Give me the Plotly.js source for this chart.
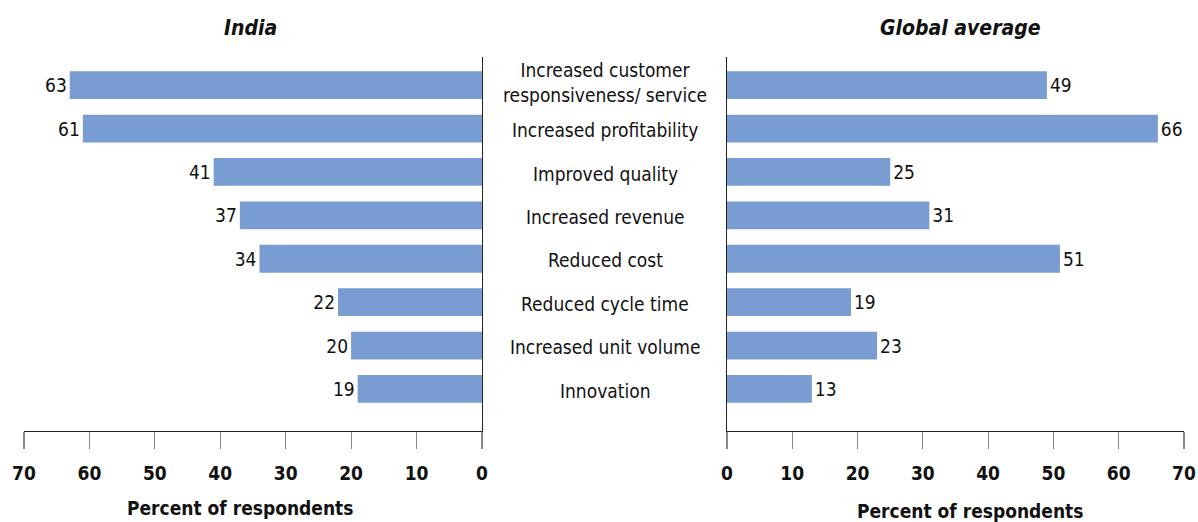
<!DOCTYPE html>
<html><head><meta charset="utf-8">
<script src="https://cdn.plot.ly/plotly-3.0.1.min.js"></script>
<style>body{margin:0}#c{width:1198px;height:522px}</style>
</head><body><div id="c"></div>
<script>
const categories = ["Increased customer<br>responsiveness/ service","Increased profitability","Improved quality","Increased revenue","Reduced cost","Reduced cycle time","Increased unit volume","Innovation"];
const india = [63,61,41,37,34,22,20,19];
const globalAvg = [49,66,25,31,51,19,23,13];
const panelTitles = ["India","Global average"];
const axisTitle = "Percent of respondents";

const FONT = "'Liberation Sans Narrow','DejaVu Sans Condensed',Arial,sans-serif";
const barColor = "#799cd2";
const idx = categories.map((c,i)=>i);

const traces = [
  {type:'bar', orientation:'h', x:india, y:idx, xaxis:'x', yaxis:'y', marker:{color:barColor}, width:0.64,
   text:india.map(String), textposition:'outside', cliponaxis:false, textfont:{family:FONT,size:19,color:'#111'}, hoverinfo:'none'},
  {type:'bar', orientation:'h', x:globalAvg, y:idx, xaxis:'x2', yaxis:'y2', marker:{color:barColor}, width:0.64,
   text:globalAvg.map(String), textposition:'outside', cliponaxis:false, textfont:{family:FONT,size:19,color:'#111'}, hoverinfo:'none'}
];

const yr = [7.97,-0.65];
const xCommon = {dtick:10, ticks:'outside', ticklen:17, tickcolor:'#888', tickwidth:1.2, showline:true, linecolor:'#222', linewidth:1.2,
  showgrid:false, zeroline:false, tickfont:{family:FONT,size:19,color:'#111',weight:'bold'}, ticklabelstandoff:8};
const titleFont = {family:FONT,size:21,color:'#111',weight:'bold',style:'italic'};
const axTitleFont = {family:FONT,size:19,color:'#111',weight:'bold'};
const layout = {
  width:1198, height:522, margin:{l:0,r:0,t:0,b:0}, paper_bgcolor:'#fff', plot_bgcolor:'#fff', showlegend:false,
  font:{family:FONT},
  xaxis:Object.assign({}, xCommon, {domain:[0.02,0.4023], range:[70,0], anchor:'y'}),
  xaxis2:Object.assign({}, xCommon, {domain:[0.6068,0.9883], range:[0,70], anchor:'y2'}),
  yaxis:{domain:[0.1743,0.8908], range:yr, side:'right', showline:true, linecolor:'#222', linewidth:1.2, showticklabels:false, ticks:'', showgrid:false, zeroline:false, anchor:'x'},
  yaxis2:{domain:[0.1743,0.8908], range:yr, side:'left', showline:true, linecolor:'#222', linewidth:1.2, showticklabels:false, ticks:'', showgrid:false, zeroline:false, anchor:'x2'},
  annotations: [
    {text:panelTitles[0], xref:'paper', yref:'paper', x:250/1198, y:1-28/522, xanchor:'center', yanchor:'middle', showarrow:false, font:titleFont},
    {text:panelTitles[1], xref:'paper', yref:'paper', x:960/1198, y:1-28/522, xanchor:'center', yanchor:'middle', showarrow:false, font:titleFont},
    {text:axisTitle, xref:'paper', yref:'paper', x:240/1198, y:1-508/522, xanchor:'center', yanchor:'middle', showarrow:false, font:axTitleFont},
    {text:axisTitle, xref:'paper', yref:'paper', x:970/1198, y:1-511/522, xanchor:'center', yanchor:'middle', showarrow:false, font:axTitleFont}
  ].concat(categories.map((c,i)=>({text:c, xref:'paper', yref:'y', x:605/1198, y:i===0 ? i-0.07 : i+0.04, xanchor:'center', yanchor:'middle', showarrow:false, align:'center',
     font:{family:FONT,size:19,color:'#111'}})))
};
Plotly.newPlot('c', traces, layout, {displayModeBar:false, staticPlot:true});
</script></body></html>
